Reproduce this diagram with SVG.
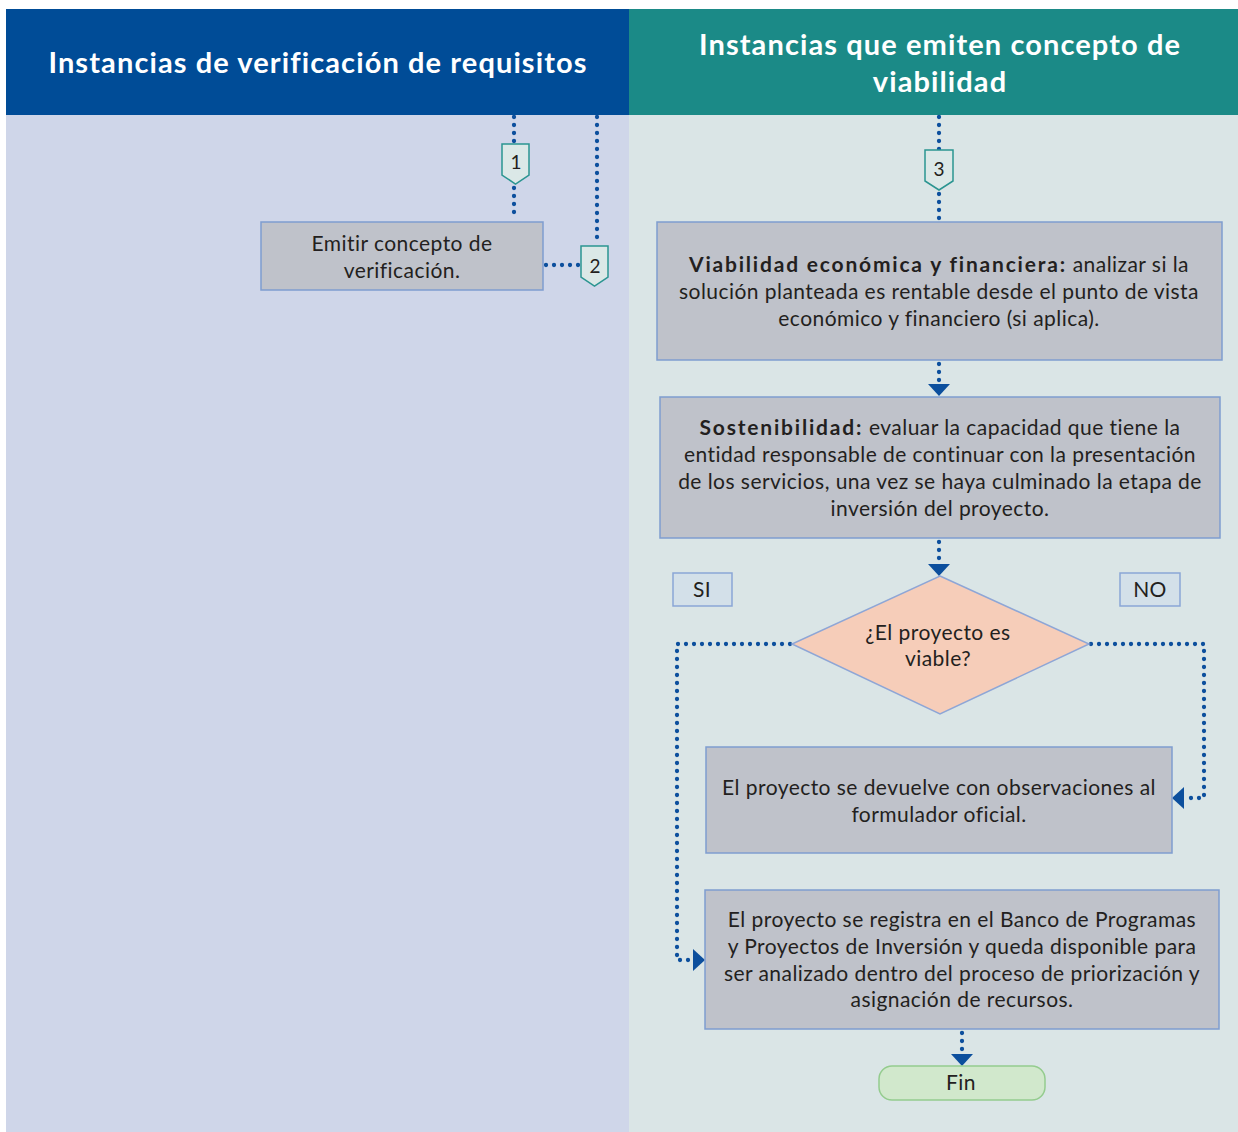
<svg xmlns="http://www.w3.org/2000/svg" width="1238" height="1132" viewBox="0 0 1238 1132">
<style>
text{font-family:Lato,"Open Sans","DejaVu Sans",sans-serif;fill:#231f20}
.h{font-size:29px;font-weight:bold;fill:#fff;text-anchor:middle;letter-spacing:1.1px}
.t{font-size:21px;text-anchor:middle;letter-spacing:0.45px}
.b{font-weight:bold;letter-spacing:1.8px}
.box{fill:#bfc2ca;stroke:#7f9dcf;stroke-width:1.5}
.lbl{fill:#d3e0e9;stroke:#8aa6d6;stroke-width:1.5}
.con{fill:#dbe8e7;stroke:#2b9591;stroke-width:1.5}
.dot{fill:none;stroke:#0c4f9d;stroke-width:4.3;stroke-linecap:round;stroke-dasharray:0 8}
.n{font-size:19px;text-anchor:middle}
</style>
<rect x="0" y="0" width="1238" height="1132" fill="#fff"/>
<rect x="6" y="115" width="623" height="1017" fill="#cfd6e9"/>
<rect x="629" y="115" width="609" height="1017" fill="#dae5e6"/>
<g id="header-left"><rect x="6" y="9" width="623" height="106" fill="#004c97"/>
<text class="h" x="318" y="73">Instancias de verificación de requisitos</text></g>
<g id="header-right"><rect x="629" y="9" width="609" height="106" fill="#1b8a87"/>
<text class="h" x="940" y="55">Instancias que emiten concepto de</text>
<text class="h" x="940" y="92">viabilidad</text></g>
<g id="connectors">
<path class="dot" d="M514,117 V144"/>
<path class="dot" d="M514,188 V219"/>
<path class="dot" d="M597,117 V244"/>
<path class="dot" d="M546,265 H579"/>
<path class="dot" d="M939,117 V150"/>
<path class="dot" d="M939,194 V219"/>
<path class="dot" d="M939,364 V384"/>
<path d="M928,384 L950,384 L939,396 Z" fill="#0c4f9d"/>
<path class="dot" d="M939,542 V564"/>
<path d="M928,564 L950,564 L939,576 Z" fill="#0c4f9d"/>
<path class="dot" d="M790,644 H677 V960 H693"/>
<path d="M693,949 L705,960 L693,971 Z" fill="#0c4f9d"/>
<path class="dot" d="M1091,644 H1204 V798 H1184"/>
<path d="M1184,787 L1172,798 L1184,809 Z" fill="#0c4f9d"/>
<path class="dot" d="M962,1033 V1054"/>
<path d="M951,1054 L973,1054 L962,1066 Z" fill="#0c4f9d"/>
</g>
<g id="c1"><path class="con" d="M502,144 H529 V175 L515.5,184 L502,175 Z"/><text class="n" x="516" y="169">1</text></g>
<g id="c2"><path class="con" d="M581,246 H608 V277 L594.5,286 L581,277 Z"/><text class="n" x="595" y="273">2</text></g>
<g id="c3"><path class="con" d="M925,150 H953 V181 L939,190 L925,181 Z"/><text class="n" x="939" y="176">3</text></g>
<g id="emitir"><rect class="box" x="261" y="222" width="282" height="68"/>
<text class="t" x="402" y="251">Emitir concepto de</text>
<text class="t" x="402" y="278">verificación.</text></g>
<g id="viabilidad"><rect class="box" x="657" y="222" width="565" height="138"/>
<text class="t" x="939" y="272"><tspan class="b">Viabilidad económica y financiera:</tspan> analizar si la</text>
<text class="t" x="939" y="299">solución planteada es rentable desde el punto de vista</text>
<text class="t" x="939" y="326">económico y financiero (si aplica).</text></g>
<g id="sostenibilidad"><rect class="box" x="660" y="397" width="560" height="141"/>
<text class="t" x="940" y="435"><tspan class="b">Sostenibilidad:</tspan> evaluar la capacidad que tiene la</text>
<text class="t" x="940" y="462">entidad responsable de continuar con la presentación</text>
<text class="t" x="940" y="489">de los servicios, una vez se haya culminado la etapa de</text>
<text class="t" x="940" y="516">inversión del proyecto.</text></g>
<g id="decision"><path d="M940,576 L1089,644 L940,714 L792,644 Z" fill="#f6cdb9" stroke="#8ea6d6" stroke-width="1.5"/>
<text class="t" x="938" y="640">¿El proyecto es</text>
<text class="t" x="938" y="666">viable?</text></g>
<g id="si"><rect class="lbl" x="673" y="573" width="59" height="33"/><text class="t" x="702" y="597">SI</text></g>
<g id="no"><rect class="lbl" x="1120" y="573" width="60" height="33"/><text class="t" x="1150" y="597">NO</text></g>
<g id="devuelve"><rect class="box" x="706" y="747" width="466" height="106"/>
<text class="t" x="939" y="795">El proyecto se devuelve con observaciones al</text>
<text class="t" x="939" y="822">formulador oficial.</text></g>
<g id="registra"><rect class="box" x="705" y="890" width="514" height="139"/>
<text class="t" x="962" y="927">El proyecto se registra en el Banco de Programas</text>
<text class="t" x="962" y="954">y Proyectos de Inversión y queda disponible para</text>
<text class="t" x="962" y="981">ser analizado dentro del proceso de priorización y</text>
<text class="t" x="962" y="1007">asignación de recursos.</text></g>
<g id="fin"><rect x="879" y="1066" width="166" height="34" rx="13" fill="#d1e8cc" stroke="#94cc8e" stroke-width="1.5"/>
<text class="t" x="961" y="1090">Fin</text></g>
</svg>
